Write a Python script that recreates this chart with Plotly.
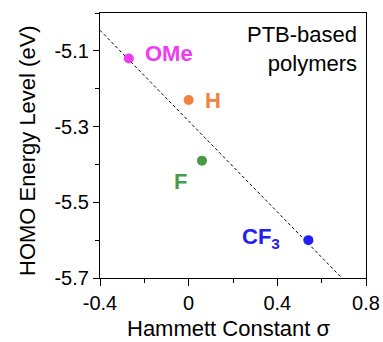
import numpy as np
import plotly.graph_objects as go

# Data
names = ["OMe", "H", "F", "CF<sub>3</sub>"]
sigma = [-0.27, 0.00, 0.06, 0.54]
homo = [-5.12, -5.23, -5.39, -5.60]
colors = ["#f03cf0", "#f5823a", "#4a9a4a", "#2020f5"]
label_dx = [40, 24, -21, -47]
label_dy = [5, 0, -21, 2]

x_tickvals = [-0.4, 0.0, 0.4, 0.8]
x_ticktext = ["-0.4", "0", "0.4", "0.8"]
y_tickvals = [-5.7, -5.5, -5.3, -5.1]
y_ticktext = ["-5.7", "-5.5", "-5.3", "-5.1"]

fit_x = [-0.4, 0.8]
slope, intercept = np.polyfit(sigma, homo, 1)
fit_y = [slope * v + intercept for v in fit_x]

FONT = "Liberation Sans, Arial, Helvetica, sans-serif"

fig = go.Figure()
fig.add_trace(go.Scatter(x=fit_x, y=fit_y, mode="lines",
                         line=dict(color="black", width=1, dash="3px,2.5px"),
                         hoverinfo="skip", showlegend=False))
fig.add_trace(go.Scatter(x=sigma, y=homo, mode="markers",
                         marker=dict(color=colors, size=10, line=dict(width=0)),
                         showlegend=False))

for n, xv, yv, c, dx, dy in zip(names, sigma, homo, colors, label_dx, label_dy):
    fig.add_annotation(x=xv, y=yv, xref="x", yref="y", text="<b>%s</b>" % n,
                       showarrow=False, xshift=dx, yshift=dy,
                       font=dict(family=FONT, size=22, color=c),
                       xanchor="center", yanchor="middle")

fig.add_annotation(x=0.975, y=0.972, xref="paper", yref="paper",
                   text="PTB-based<br>polymers", showarrow=False,
                   align="right", xanchor="right", yanchor="top",
                   font=dict(family=FONT, size=22, color="black"))

fig.add_annotation(x=0.485, y=-0.2415, xref="paper", yref="paper",
                   text="Hammett Constant σ", showarrow=False,
                   xanchor="center", yanchor="bottom", borderpad=0,
                   font=dict(family=FONT, size=22, color="black"))
fig.add_annotation(x=-0.27, y=0.48, xref="paper", yref="paper",
                   text="HOMO Energy Level (eV)", showarrow=False, textangle=-90,
                   xanchor="center", yanchor="middle",
                   font=dict(family=FONT, size=22, color="black"))

fig.update_xaxes(range=[-0.4, 0.8], tickmode="array", tickvals=x_tickvals,
                 ticktext=x_ticktext, ticks="outside", ticklen=7, tickwidth=1,
                 tickcolor="black", showline=True, linecolor="black", linewidth=1.2,
                 mirror=True, showgrid=False, zeroline=False, automargin=False,
                 tickfont=dict(family=FONT, size=20, color="black"),
                 minor=dict(tickmode="linear", tick0=-0.4, dtick=0.2, ticks="outside",
                            ticklen=4, tickcolor="black", showgrid=False))
fig.update_yaxes(range=[-5.7, -5.0], tickmode="array", tickvals=y_tickvals,
                 ticktext=y_ticktext, ticks="outside", ticklen=6, tickwidth=1,
                 tickcolor="black", showline=True, linecolor="black", linewidth=1.2,
                 mirror=True, showgrid=False, zeroline=False, automargin=False,
                 tickfont=dict(family=FONT, size=20, color="black"),
                 minor=dict(tickmode="linear", tick0=-5.7, dtick=0.1, ticks="outside",
                            ticklen=4, tickcolor="black", showgrid=False))

fig.update_layout(width=383, height=342, margin=dict(l=100, r=17, t=13, b=64),
                  plot_bgcolor="white", paper_bgcolor="white",
                  font=dict(family=FONT))

fig.write_html("out.html", config={"displayModeBar": False},
               post_script="document.body.style.margin='0';document.body.style.overflow='hidden';")
